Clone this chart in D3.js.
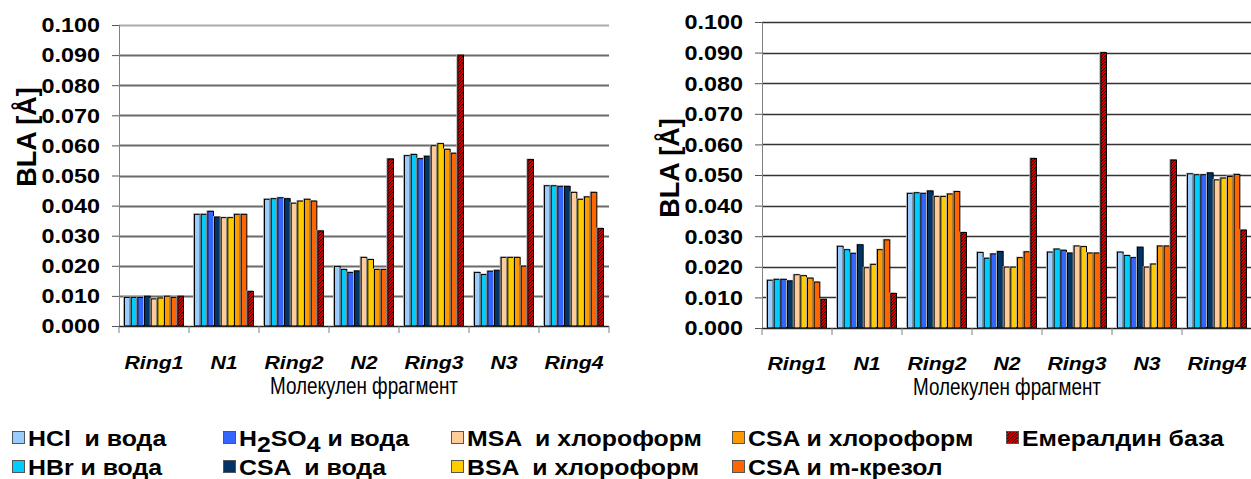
<!DOCTYPE html>
<html>
<head>
<meta charset="utf-8">
<script src="https://d3js.org/d3.v7.min.js"></script>
<style>
  body { margin: 0; background: #fff; }
  svg { display: block; }
  text { font-family: Arial, 'Liberation Sans', sans-serif; fill: #000; white-space: pre; }
</style>
</head>
<body>
<div id="chart"></div>
<script>
const categories = ['Ring1', 'N1', 'Ring2', 'N2', 'Ring3', 'N3', 'Ring4'];
const seriesNames = ['HCl', 'HBr', 'H2SO4', 'CSAw', 'MSA', 'BSA', 'CSAc', 'CSAm', 'EB'];
const yTicks = [0, 0.01, 0.02, 0.03, 0.04, 0.05, 0.06, 0.07, 0.08, 0.09, 0.1];

// left panel
const leftHCl   = [0.0095, 0.0371, 0.0421, 0.0198, 0.0566, 0.0178, 0.0466];
const leftHBr   = [0.0095, 0.0371, 0.0423, 0.0188, 0.0570, 0.0171, 0.0466];
const leftH2SO4 = [0.0095, 0.0381, 0.0426, 0.0178, 0.0556, 0.0182, 0.0464];
const leftCSAw  = [0.0099, 0.0362, 0.0423, 0.0183, 0.0564, 0.0185, 0.0464];
const leftMSA   = [0.0090, 0.0360, 0.0408, 0.0228, 0.0599, 0.0228, 0.0444];
const leftBSA   = [0.0093, 0.0360, 0.0415, 0.0221, 0.0606, 0.0228, 0.0421];
const leftCSAc  = [0.0099, 0.0371, 0.0421, 0.0188, 0.0587, 0.0228, 0.0429];
const leftCSAm  = [0.0095, 0.0371, 0.0415, 0.0188, 0.0574, 0.0199, 0.0444];
const leftEB    = [0.0099, 0.0115, 0.0316, 0.0555, 0.0900, 0.0553, 0.0324];

// right panel
const rightHCl   = [0.0156, 0.0267, 0.0440, 0.0247, 0.0248, 0.0248, 0.0504];
const rightHBr   = [0.0159, 0.0256, 0.0442, 0.0228, 0.0258, 0.0237, 0.0501];
const rightH2SO4 = [0.0159, 0.0244, 0.0440, 0.0242, 0.0254, 0.0230, 0.0501];
const rightCSAw  = [0.0154, 0.0272, 0.0448, 0.0250, 0.0245, 0.0264, 0.0507];
const rightMSA   = [0.0174, 0.0197, 0.0430, 0.0199, 0.0268, 0.0199, 0.0484];
const rightBSA   = [0.0171, 0.0208, 0.0430, 0.0199, 0.0266, 0.0209, 0.0490];
const rightCSAc  = [0.0163, 0.0256, 0.0438, 0.0230, 0.0245, 0.0268, 0.0495];
const rightCSAm  = [0.0150, 0.0288, 0.0446, 0.0249, 0.0245, 0.0268, 0.0502];
const rightEB    = [0.0094, 0.0113, 0.0312, 0.0554, 0.0900, 0.0549, 0.0320];

const leftData = [leftHCl, leftHBr, leftH2SO4, leftCSAw, leftMSA, leftBSA, leftCSAc, leftCSAm, leftEB];
const rightData = [rightHCl, rightHBr, rightH2SO4, rightCSAw, rightMSA, rightBSA, rightCSAc, rightCSAm, rightEB];

const colors = ['#99ccff', '#00ccff', '#3366ff', '#003366', '#ffcc99', '#ffcc00', '#ff9900', '#ff6600', 'url(#hatch)'];

const SX = 1.2; // the original picture is stretched sideways

const W = 1251, H = 479;
const svg = d3.select('#chart').append('svg').attr('width', W).attr('height', H);

// red hatched fill for Emeraldine base
const pat = svg.append('defs').append('pattern')
  .attr('id', 'hatch').attr('patternUnits', 'userSpaceOnUse')
  .attr('width', 3).attr('height', 3);
pat.append('rect').attr('width', 3).attr('height', 3).attr('fill', '#d40000');
pat.append('path').attr('d', 'M0,3 L3,0 M-1,1 L1,-1 M2,4 L4,2')
  .attr('stroke', '#3a0000').attr('stroke-width', 1);

function panel(data, opt) {
  const x = d3.scaleBand().domain(categories).range([opt.x0, opt.x1]);
  const xs = d3.scaleBand().domain(seriesNames).range([0, x.bandwidth()]).paddingOuter(0.75);
  const y = d3.scaleLinear().domain([0, 0.1]).range([opt.y0, opt.y1]);

  const g = svg.append('g');

  // grid
  g.selectAll('line.grid').data(yTicks.slice(1)).enter().append('line')
    .attr('x1', opt.x0).attr('x2', opt.x1)
    .attr('y1', d => Math.round(y(d)) + 0.5).attr('y2', d => Math.round(y(d)) + 0.5)
    .attr('stroke', d => d === 0.1 ? opt.gridTop : opt.grid).attr('stroke-width', opt.gridW);

  // y axis
  const ya = g.append('g').attr('transform', 'translate(' + opt.x0 + ',0)')
    .call(d3.axisLeft(y).tickValues(yTicks).tickFormat(d3.format('.3f')).tickSize(7));
  ya.select('.domain').attr('stroke', '#808080');
  ya.selectAll('.tick line').attr('stroke', '#555');
  ya.selectAll('.tick text')
    .attr('x', 0).attr('dy', '0.35em')
    .attr('transform', 'translate(-19,0) scale(' + SX + ',1)')
    .style('font-size', '19.5px').style('font-weight', 'bold');

  // bars
  seriesNames.forEach((s, i) => {
    const bars = g.append('g');
    bars.selectAll('rect.sh').data(data[i]).enter().append('rect')
      .attr('x', (d, j) => x(categories[j]) + xs(s) - 1)
      .attr('y', d => y(d) - 1)
      .attr('width', xs.bandwidth())
      .attr('height', d => y(0) - y(d))
      .attr('fill', '#b0b0b0');
    bars.selectAll('rect.bar').data(data[i]).enter().append('rect')
      .attr('x', (d, j) => x(categories[j]) + xs(s) + 0.5)
      .attr('y', d => y(d))
      .attr('width', xs.bandwidth() - 1)
      .attr('height', d => y(0) - y(d))
      .attr('fill', colors[i])
      .attr('stroke', '#000').attr('stroke-width', 1);
  });

  // x axis
  g.append('line').attr('x1', opt.x0).attr('x2', opt.x1)
    .attr('y1', y(0) + 0.5).attr('y2', y(0) + 0.5).attr('stroke', '#222').attr('stroke-width', 1.5);
  g.selectAll('line.xt').data(d3.range(categories.length + 1)).enter().append('line')
    .attr('x1', d => opt.x0 + d * x.step()).attr('x2', d => opt.x0 + d * x.step())
    .attr('y1', y(0)).attr('y2', y(0) + 7).attr('stroke', '#808080');
  g.selectAll('text.cat').data(categories).enter().append('text')
    .attr('transform', d => 'translate(' + (x(d) + x.bandwidth() / 2) + ',' + opt.catY + ') scale(1.12,1)')
    .attr('text-anchor', 'middle')
    .style('font-size', '19px').style('font-weight', 'bold').style('font-style', 'italic')
    .text(d => d);

  g.append('text')
    .attr('x', (opt.x0 + opt.x1) / 2).attr('y', opt.titleY)
    .attr('text-anchor', 'middle').style('font-size', '23px')
    .attr('textLength', 188).attr('lengthAdjust', 'spacingAndGlyphs')
    .text('Молекулен фрагмент');

  g.append('text')
    .attr('transform', 'translate(' + opt.ylabX + ',' + opt.ylabY + ') rotate(-90)')
    .attr('text-anchor', 'middle').style('font-size', '27px').style('font-weight', 'bold')
    .text('BLA [Å]');
}

panel(leftData, { x0: 119, x1: 609, y0: 326, y1: 25, grid: '#6a6a6a', gridTop: '#aaa', gridW: 2, catY: 369, titleY: 394, ylabX: 36, ylabY: 137 });
panel(rightData, { x0: 762, x1: 1252, y0: 328, y1: 22, grid: '#333', gridTop: '#333', gridW: 1.3, catY: 370, titleY: 395, ylabX: 679, ylabY: 168 });

// legend
const legendLabels = [
  ['HCl  и вода'], ['HBr и вода'], ['H', '2', 'SO', '4', ' и вода'], ['CSA  и вода'],
  ['MSA  и хлороформ'], ['BSA  и хлороформ'], ['CSA и хлороформ'], ['CSA и m-крезол'], ['Емералдин база']
];
const legendCols = [12, 223, 451, 732, 1006];
const legendRows = [438, 467];

const lg = svg.append('g');
legendLabels.forEach((parts, i) => {
  const cx = legendCols[Math.floor(i / 2)], cy = legendRows[i % 2];
  lg.append('rect').attr('x', cx + 0.5).attr('y', cy - 6.5).attr('width', 12).attr('height', 12)
    .attr('fill', colors[i]).attr('stroke', '#555').attr('stroke-width', 1);
  const t = lg.append('text')
    .attr('transform', 'translate(' + (cx + 16) + ',' + (cy + 8) + ') scale(1.13,1)')
    .style('font-size', '22px').style('font-weight', 'bold');
  parts.forEach((p, k) => {
    const sub = parts.length > 1 && (k === 1 || k === 3);
    t.append('tspan').attr('dy', sub ? 6 : (k > 0 ? -6 : 0)).text(p);
  });
});
</script>
</body>
</html>
